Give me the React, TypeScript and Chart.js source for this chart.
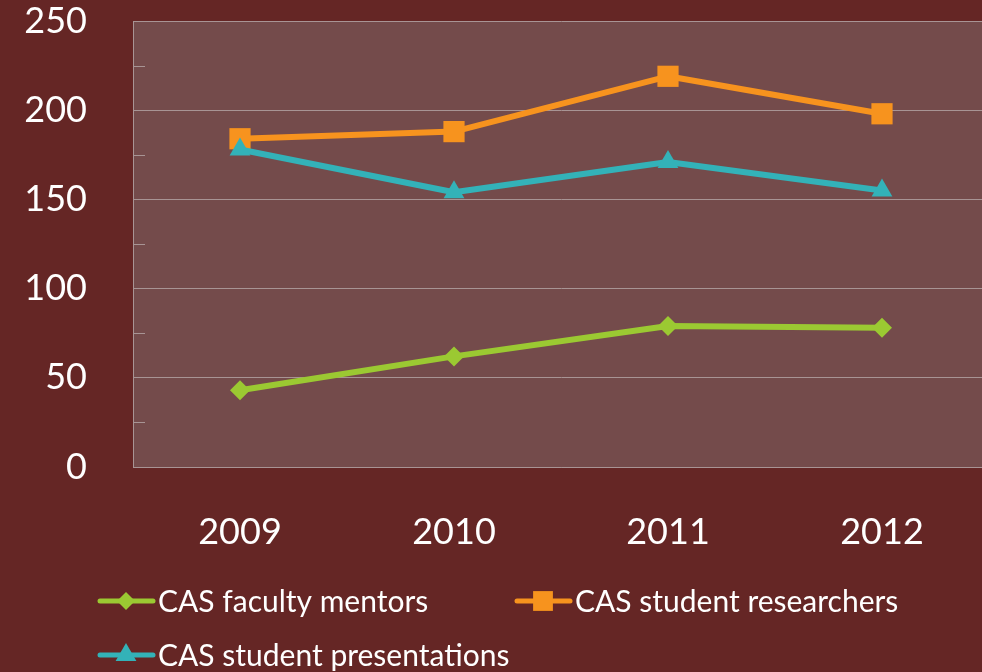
import { useEffect, useRef } from 'react';
import { Chart, registerables } from 'chart.js';

Chart.register(...registerables);

const categories = ['2009', '2010', '2011', '2012'];
const seriesNames = ['CAS faculty mentors', 'CAS student researchers', 'CAS student presentations'];
const facultyMentors = [43, 62, 79, 78];
const studentResearchers = [184, 188, 219, 198];
const studentPresentations = [178, 154, 171, 155];
const yMin = 0;
const yMax = 250;
const yMajorStep = 50;
const yMinorStep = 25;

const FONT = 'Lato, "Open Sans", sans-serif';
const PAGE_BG = '#652625';
const PLOT_BG = '#744B4B';
const GRID = '#A89494';
const GREEN = '#9BC932';
const ORANGE = '#F7931E';
const TEAL = '#33B2B8';

const CANVAS_W = 989;
const CANVAS_H = 672;

function drawMarker(ctx: CanvasRenderingContext2D, style: string, x: number, y: number, r: number, color: string) {
  ctx.save();
  ctx.fillStyle = color;
  ctx.beginPath();
  if (style === 'rectRot') {
    ctx.moveTo(x, y - r);
    ctx.lineTo(x + r, y);
    ctx.lineTo(x, y + r);
    ctx.lineTo(x - r, y);
  } else if (style === 'rect') {
    const s = r * Math.SQRT1_2;
    ctx.rect(x - s, y - s, 2 * s, 2 * s);
  } else {
    const h = r * Math.sqrt(3) / 2;
    ctx.moveTo(x, y - r);
    ctx.lineTo(x + h, y + r / 2);
    ctx.lineTo(x - h, y + r / 2);
  }
  ctx.closePath();
  ctx.fill();
  ctx.restore();
}

const plotBackground = {
  id: 'plotBackground',
  beforeDraw(chart: any) {
    const { ctx, chartArea } = chart;
    ctx.save();
    ctx.fillStyle = PLOT_BG;
    ctx.fillRect(chartArea.left, chartArea.top, chartArea.right - chartArea.left, chartArea.bottom - chartArea.top);
    ctx.restore();
  },
};

const minorTicks = {
  id: 'minorTicks',
  beforeDatasetsDraw(chart: any) {
    const { ctx, chartArea, scales } = chart;
    const y = scales.y;
    ctx.save();
    ctx.strokeStyle = GRID;
    ctx.lineWidth = 1;
    for (let v = yMin + yMinorStep; v < yMax; v += yMinorStep) {
      if (v % yMajorStep === 0) continue;
      const py = Math.round(y.getPixelForValue(v)) + 0.5;
      ctx.beginPath();
      ctx.moveTo(chartArea.left, py);
      ctx.lineTo(chartArea.left + 12, py);
      ctx.stroke();
    }
    ctx.restore();
  },
};

const legendSpots = [
  { x: 98, y: 601 },
  { x: 515, y: 601 },
  { x: 98, y: 655 },
];

const customLegend = {
  id: 'customLegend',
  afterDraw(chart: any) {
    const { ctx } = chart;
    chart.data.datasets.forEach((ds: any, i: number) => {
      const spot = legendSpots[i];
      ctx.save();
      ctx.strokeStyle = ds.borderColor;
      ctx.lineWidth = 5;
      ctx.lineCap = 'round';
      ctx.beginPath();
      ctx.moveTo(spot.x + 2, spot.y);
      ctx.lineTo(spot.x + 55, spot.y);
      ctx.stroke();
      ctx.restore();
      drawMarker(ctx, ds.pointStyle, spot.x + 28, spot.y, ds.legendRadius, ds.backgroundColor);
      ctx.save();
      ctx.fillStyle = '#FFFFFF';
      ctx.font = `30px ${FONT}`;
      ctx.textBaseline = 'middle';
      ctx.textAlign = 'left';
      ctx.fillText(ds.label, spot.x + 60, spot.y + 1);
      ctx.restore();
    });
  },
};

export default function App() {
  const ref = useRef<HTMLCanvasElement | null>(null);

  useEffect(() => {
    if (!ref.current) return;
    const chart = new Chart(ref.current, {
      type: 'line',
      data: {
        labels: categories,
        datasets: [
          {
            label: seriesNames[0],
            data: facultyMentors,
            borderColor: GREEN,
            backgroundColor: GREEN,
            borderWidth: 6,
            pointStyle: 'rectRot',
            pointRadius: 10,
            pointBorderWidth: 0,
            pointBackgroundColor: GREEN,
            order: 2,
            legendRadius: 9,
          } as any,
          {
            label: seriesNames[1],
            data: studentResearchers,
            borderColor: ORANGE,
            backgroundColor: ORANGE,
            borderWidth: 6,
            pointStyle: 'rect',
            pointRadius: 15,
            pointBorderWidth: 0,
            pointBackgroundColor: ORANGE,
            order: 1,
            legendRadius: 14,
          } as any,
          {
            label: seriesNames[2],
            data: studentPresentations,
            borderColor: TEAL,
            backgroundColor: TEAL,
            borderWidth: 6,
            pointStyle: 'triangle',
            pointRadius: 12,
            pointBorderWidth: 0,
            pointBackgroundColor: TEAL,
            order: 0,
            legendRadius: 12,
          } as any,
        ],
      },
      options: {
        responsive: false,
        animation: false,
        devicePixelRatio: 1,
        layout: { autoPadding: false, padding: { top: 21, left: 0, right: 0, bottom: 0 } },
        elements: { line: { tension: 0, borderJoinStyle: 'round', borderCapStyle: 'round' } },
        plugins: {
          legend: { display: false },
          tooltip: { enabled: false },
        },
        scales: {
          x: {
            offset: true,
            grid: { display: false, drawTicks: false },
            border: { display: true, color: GRID, width: 1 },
            ticks: { color: '#FFFFFF', font: { family: FONT, size: 36 }, padding: 44, maxRotation: 0 },
            afterFit: (s: any) => {
              s.height = CANVAS_H - 467;
              s.paddingLeft = 0;
              s.paddingRight = 0;
              s.paddingTop = 0;
              s.paddingBottom = 0;
            },
          },
          y: {
            min: yMin,
            max: yMax,
            ticks: { stepSize: yMajorStep, color: '#FFFFFF', font: { family: FONT, size: 36 }, padding: 46 },
            grid: { color: GRID, lineWidth: 1, drawTicks: false },
            border: { display: true, color: GRID, width: 1 },
            afterFit: (s: any) => {
              s.width = 133;
              s.paddingTop = 0;
              s.paddingBottom = 0;
              s.paddingLeft = 0;
              s.paddingRight = 0;
            },
          },
        },
      },
      plugins: [plotBackground, minorTicks, customLegend],
    });
    return () => chart.destroy();
  }, []);

  return (
    <div
      style={{
        position: 'fixed',
        left: 0,
        top: 0,
        width: 982,
        height: 672,
        overflow: 'hidden',
        background: PAGE_BG,
      }}
    >
      <canvas ref={ref} width={CANVAS_W} height={CANVAS_H} style={{ display: 'block' }} />
    </div>
  );
}
